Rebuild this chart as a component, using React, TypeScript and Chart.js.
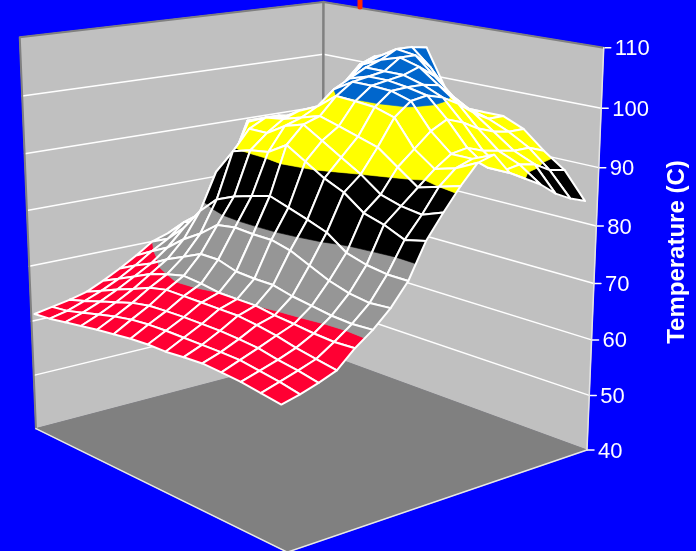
import React, { useEffect, useRef } from "react";
import { Chart, registerables } from "chart.js";

Chart.register(...registerables);

// Temperature readings over the measurement grid: one list per row, front to back.
const row00 = [61.2, 61.5, 62, 62.5, 63, 63.4, 63.8, 64, 64, 64.3, 64.5, 64.3, 64, 63.5, 63];
const row01 = [61.8, 62.2, 63, 63.8, 64.6, 65.2, 65.5, 65.6, 65.6, 65.6, 65.6, 65.5, 65, 64.5, 63.8];
const row02 = [62.4, 63.3, 64.3, 65.3, 66.3, 66.9, 67.1, 67.2, 67.2, 67.2, 67, 66.7, 66, 65.5, 64.8];
const row03 = [63.2, 64.5, 65.8, 67, 68.3, 69, 69, 69, 69, 69, 68.6, 68, 67.2, 66.6, 66];
const row04 = [64.6, 66, 67.5, 69, 70, 70.8, 70.5, 70, 70, 70, 69.5, 69.2, 68.8, 68.6, 68.8];
const row05 = [66.2, 67.8, 69.2, 71, 72.5, 74, 74, 73, 72.8, 72.8, 72, 71.5, 71, 70.8, 71];
const row06 = [68, 69.8, 71.5, 74, 76, 78.5, 79, 78.8, 78.8, 78, 76.5, 75, 74, 73.5, 73.8];
const row07 = [70, 71.5, 74.5, 78.5, 81.5, 82.9, 83.9, 84.8, 83.7, 82.6, 81.4, 79, 78, 77.5, 77.5];
const row08 = [71, 74, 75, 85, 89.5, 90.5, 91, 93, 91, 89, 87.5, 85, 84, 82.5, 83.3];
const row09 = [72, 75, 81, 87, 93, 93, 95, 96, 94, 92, 90, 87.5, 86.5, 86, 87.3];
const row10 = [73, 77, 85, 93, 94.5, 95, 96, 97, 96, 95, 94, 91.5, 89, 90, 91];
const row11 = [75, 81, 92, 93, 94, 96, 97.5, 100, 99.8, 99.5, 98.5, 94, 91.5, 92.5, 94.2];
const row12 = [76, 87, 92, 93, 93.5, 95.8, 100, 102, 102, 101.8, 100.8, 96.5, 93.5, 93.5, 95];
const row13 = [78, 90, 92, 92, 93.7, 96.7, 101.5, 102.5, 102.5, 102, 101.3, 98, 94, 91.5, 91.5];
const row14 = [80, 89.5, 91.5, 92.5, 95.3, 100, 103, 103, 103, 102, 100.5, 97, 93, 90.5, 90];
const row15 = [82, 89, 91.5, 94, 98.3, 102.5, 104, 105, 104, 101.5, 99, 95.5, 92.5, 91, 88.5];
const row16 = [83, 89, 93, 97, 101.5, 103.5, 105.5, 105, 102, 99, 97, 94.5, 92, 90.5, 86.4];
const row17 = [84, 89.5, 94, 99, 102.6, 103.5, 105.5, 102.5, 98, 96.5, 95.5, 94, 92, 89, 85];
const row18 = [84, 93, 97, 101, 102.5, 103, 105, 98.5, 95, 95.5, 95.5, 94, 91, 88.5, 84];
const surfaceRows = [
  row00, row01, row02, row03, row04, row05, row06, row07, row08, row09,
  row10, row11, row12, row13, row14, row15, row16, row17, row18,
];

const tickValues = [40, 50, 60, 70, 80, 90, 100, 110];
const axisTitle = "Temperature (C)";
const bandEdges = [60, 70, 80, 90, 100, 110];
const bandColors = ["#FF0033", "#969696", "#000000", "#FFFF00", "#0066CC"];

const zMin = 40;
const zMax = 110;

// Screen positions of the box corners as [u, v, w, screenX, screenY].
const boxCorners = [
  [0, 0, 0, 36, 429],
  [1, 0, 0, 287, 552],
  [1, 1, 0, 587, 450],
  [0, 1, 0, 323, 353],
  [0, 0, 1, 20, 37],
  [1, 1, 1, 604, 48],
  [0, 1, 1, 323, 2],
];

// Solves the 3D-to-screen perspective matrix by least squares.
function solveProjection(): number[] {
  const rows: number[][] = [];
  const rhs: number[] = [];
  for (const [u, v, w, X, Y] of boxCorners) {
    rows.push([u, v, w, 1, 0, 0, 0, 0, -X * u, -X * v, -X * w]);
    rhs.push(X);
    rows.push([0, 0, 0, 0, u, v, w, 1, -Y * u, -Y * v, -Y * w]);
    rhs.push(Y);
  }
  const n = 11;
  const m: number[][] = [];
  for (let a = 0; a < n; a++) {
    const line = new Array(n + 1).fill(0);
    rows.forEach((r, k) => {
      for (let b = 0; b < n; b++) line[b] += r[a] * r[b];
      line[n] += r[a] * rhs[k];
    });
    m.push(line);
  }
  for (let c = 0; c < n; c++) {
    let p = c;
    for (let r = c + 1; r < n; r++) if (Math.abs(m[r][c]) > Math.abs(m[p][c])) p = r;
    [m[c], m[p]] = [m[p], m[c]];
    for (let r = 0; r < n; r++) {
      if (r === c) continue;
      const f = m[r][c] / m[c][c];
      for (let k = c; k <= n; k++) m[r][k] -= f * m[c][k];
    }
  }
  return m.map((line, c) => line[n] / line[c]);
}

const P = solveProjection();

function project(u: number, v: number, z: number) {
  const w = (z - zMin) / (zMax - zMin);
  const d = P[8] * u + P[9] * v + P[10] * w + 1;
  return {
    x: (P[0] * u + P[1] * v + P[2] * w + P[3]) / d,
    y: (P[4] * u + P[5] * v + P[6] * w + P[7]) / d,
  };
}

// Grid nodes sit slightly inside the box walls.
const columnCount = row00.length;
const rowCount = surfaceRows.length;
const nodeU = (i: number) => (i / (columnCount - 1)) * 0.97;
const nodeV = (j: number) => 0.01 + (j / (rowCount - 1)) * 0.98;

type Node = { i: number; j: number; z: number };

// Keeps the part of a cell polygon on one side of a temperature level.
function clipLevel(poly: Node[], level: number, keepAbove: boolean): Node[] {
  const out: Node[] = [];
  const inside = (n: Node) => (keepAbove ? n.z >= level : n.z <= level);
  poly.forEach((cur, k) => {
    const next = poly[(k + 1) % poly.length];
    if (inside(cur)) out.push(cur);
    if (inside(cur) !== inside(next)) {
      const f = (level - cur.z) / (next.z - cur.z);
      out.push({ i: cur.i + f * (next.i - cur.i), j: cur.j + f * (next.j - cur.j), z: level });
    }
  });
  return out;
}

const nodePoint = (n: Node) => project(nodeU(n.i), nodeV(n.j), n.z);

function buildDatasets() {
  const sets: any[] = [];
  const poly = (corners: any[], color: string, border: number) =>
    sets.push({
      data: [...corners, corners[0]],
      showLine: true,
      fill: "shape",
      backgroundColor: color,
      borderColor: color,
      borderWidth: border,
      pointRadius: 0,
    });
  const line = (data: any[], color: string, width: number) =>
    sets.push({
      data,
      showLine: true,
      fill: false,
      borderColor: color,
      borderWidth: width,
      pointRadius: 0,
      borderJoinStyle: "round",
      borderCapStyle: "round",
    });

  // Walls and floor of the box.
  poly([project(0, 0, zMin), project(0, 1, zMin), project(0, 1, zMax), project(0, 0, zMax)], "#C0C0C0", 1);
  poly([project(0, 1, zMin), project(1, 1, zMin), project(1, 1, zMax), project(0, 1, zMax)], "#C0C0C0", 1);
  poly([project(0, 0, zMin), project(1, 0, zMin), project(1, 1, zMin), project(0, 1, zMin)], "#808080", 1);

  // Gridlines along both walls and the tick marks of the vertical axis.
  for (const z of tickValues) {
    if (z > zMin && z < zMax) {
      line([project(0, 0, z), project(0, 1, z), project(1, 1, z)], "#FFFFFF", 1.5);
    }
    const a = project(1, 1, z);
    line([a, { x: a.x + 7, y: a.y }], "#FFFFFF", 1.5);
  }

  // Box edges.
  line([project(0, 0, zMin), project(0, 0, zMax), project(0, 1, zMax), project(1, 1, zMax)], "#808080", 2);
  line([project(0, 1, zMin), project(0, 1, zMax)], "#808080", 2.5);
  line([project(1, 1, zMin), project(1, 1, zMax)], "#E4E4E4", 1.5);
  line([project(0, 0, zMin), project(1, 0, zMin), project(1, 1, zMin)], "#E8E8E8", 1.5);

  // Stray marker above the back corner.
  line([{ x: 360, y: 0 }, { x: 360, y: 7 }], "#FF2A00", 5);

  // Surface cells, painted from the back corner to the front corner.
  for (let j = rowCount - 2; j >= 0; j--) {
    for (let i = 0; i < columnCount - 1; i++) {
      const cell: Node[] = [
        { i, j, z: surfaceRows[j][i] },
        { i: i + 1, j, z: surfaceRows[j][i + 1] },
        { i: i + 1, j: j + 1, z: surfaceRows[j + 1][i + 1] },
        { i, j: j + 1, z: surfaceRows[j + 1][i] },
      ];
      bandColors.forEach((color, b) => {
        const part = clipLevel(clipLevel(cell, bandEdges[b], true), bandEdges[b + 1], false);
        if (part.length < 3) return;
        poly(part.map(nodePoint), color, 0.6);
      });
      const outline = cell.map(nodePoint);
      line([...outline, outline[0]], "#FFFFFF", 2);
    }
  }

  // Chart.js paints the first dataset last, so flip the list.
  return sets.reverse();
}

// Tick labels and the axis title, placed beside the slanted vertical edge.
const axisText = {
  id: "axisText",
  afterDraw(chart: any) {
    const { ctx, scales } = chart;
    ctx.save();
    ctx.fillStyle = "#FFFFFF";
    ctx.font = '22px "Liberation Sans"';
    ctx.textAlign = "left";
    ctx.textBaseline = "middle";
    for (const z of tickValues) {
      const p = project(1, 1, z);
      ctx.fillText(String(z), scales.x.getPixelForValue(p.x) + 11, scales.y.getPixelForValue(p.y) + 1.5);
    }
    ctx.translate(684, 252);
    ctx.rotate(-Math.PI / 2);
    ctx.font = 'bold 24px "Liberation Sans"';
    ctx.textAlign = "center";
    ctx.textBaseline = "alphabetic";
    ctx.fillText(axisTitle, 0, 0);
    ctx.restore();
  },
};

export default function App() {
  const ref = useRef<HTMLCanvasElement>(null);
  useEffect(() => {
    const chart = new Chart(ref.current as HTMLCanvasElement, {
      type: "scatter",
      data: { datasets: buildDatasets() },
      options: {
        animation: false,
        responsive: false,
        events: [],
        layout: { padding: 0 },
        plugins: { legend: { display: false }, tooltip: { enabled: false } },
        scales: {
          x: { type: "linear", min: 0, max: 696, display: false },
          y: { type: "linear", min: 0, max: 551, reverse: true, display: false },
        },
      },
      plugins: [axisText],
    } as any);
    return () => chart.destroy();
  }, []);
  return (
    <div style={{ position: "fixed", left: 0, top: 0, width: 696, height: 551, background: "#0000FF" }}>
      <canvas ref={ref} width={696} height={551} style={{ display: "block" }} />
    </div>
  );
}
